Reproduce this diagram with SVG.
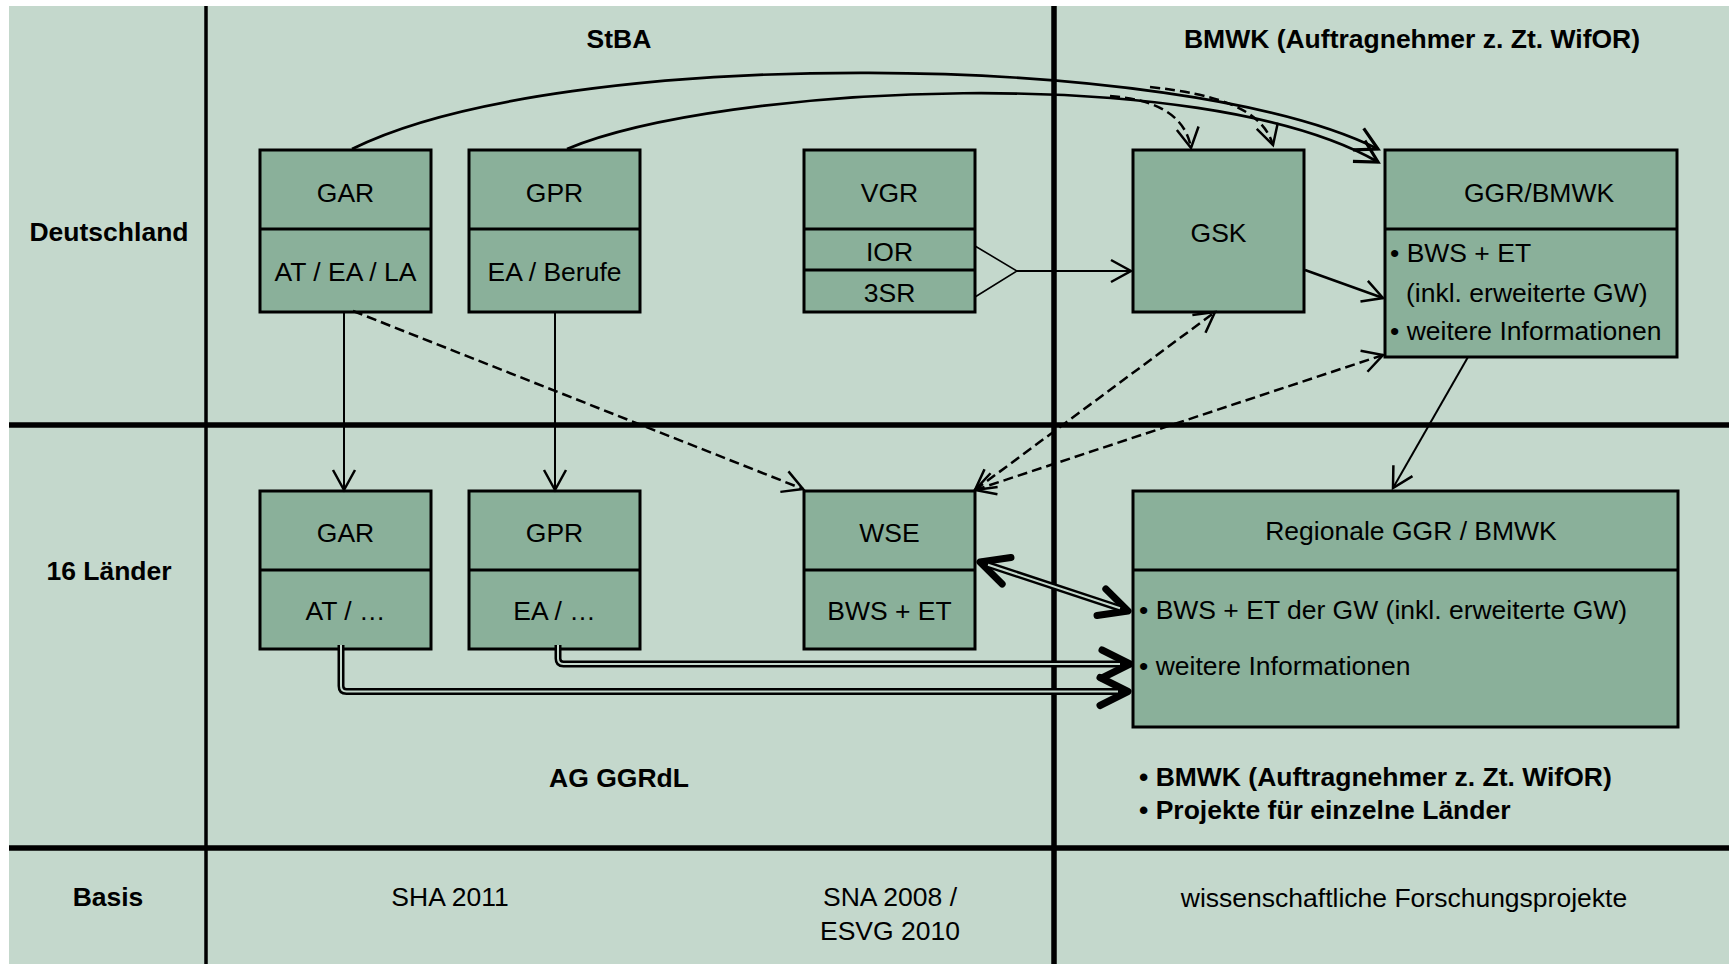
<svg xmlns="http://www.w3.org/2000/svg" width="1729" height="964" viewBox="0 0 1729 964">
<style>
.bg{fill:#C4D8CC}
.box{fill:#8AB09A;stroke:#000;stroke-width:3}
.div{stroke:#000;stroke-width:3;fill:none}
.t{font-family:'Liberation Sans',Arial,Helvetica,sans-serif;font-size:26.5px;fill:#000;text-anchor:middle}
.b{font-weight:bold}
.l{text-anchor:start}
.c{fill:none;stroke:#000;stroke-width:2}
.cw{fill:none;stroke:#000;stroke-width:2.7}
.d{stroke-dasharray:10 5;stroke-width:2.5}
.dblo{fill:none;stroke:#000;stroke-width:7}
.dbli{fill:none;stroke:#C4D8CC;stroke-width:2}
</style>
<defs>
<marker id="arr" markerUnits="userSpaceOnUse" markerWidth="60" markerHeight="60" refX="0" refY="0" orient="auto-start-reverse" overflow="visible">
<path d="M-20,-11 L0,0 L-20,11" fill="none" stroke="#000" stroke-width="2.5"/>
</marker>
<marker id="arrb" markerUnits="userSpaceOnUse" markerWidth="60" markerHeight="60" refX="0" refY="0" orient="auto-start-reverse" overflow="visible">
<path d="M-22,-12 L0,0 L-22,12" fill="none" stroke="#000" stroke-width="3.2"/>
</marker>
<marker id="tarr" markerUnits="userSpaceOnUse" markerWidth="80" markerHeight="80" refX="0" refY="0" orient="auto-start-reverse" overflow="visible">
<path d="M-28,-14 L0,0 L-28,14" fill="none" stroke="#000" stroke-width="7" stroke-linecap="round" stroke-linejoin="round"/>
</marker>
</defs>

<g id="background">
<rect x="0" y="0" width="1729" height="964" fill="#FFFFFF"/>
<rect class="bg" x="9" y="6" width="1720" height="958"/>
<line x1="206" y1="6" x2="206" y2="964" stroke="#000" stroke-width="3.5"/>
<line x1="1054" y1="6" x2="1054" y2="964" stroke="#000" stroke-width="5.5"/>
<line x1="9" y1="425" x2="1729" y2="425" stroke="#000" stroke-width="5.5"/>
<line x1="9" y1="848" x2="1729" y2="848" stroke="#000" stroke-width="5.5"/>
</g>

<g id="labels">
<text class="t b" x="619" y="48">StBA</text>
<text class="t b" x="1412" y="48">BMWK (Auftragnehmer z. Zt. WifOR)</text>
<text class="t b" x="109" y="241">Deutschland</text>
<text class="t b" x="109" y="580">16 Länder</text>
<text class="t b" x="108" y="906">Basis</text>
<text class="t b" x="619" y="787">AG GGRdL</text>
<text class="t b l" x="1139" y="786">• BMWK (Auftragnehmer z. Zt. WifOR)</text>
<text class="t b l" x="1139" y="819">• Projekte für einzelne Länder</text>
<text class="t" x="450" y="906">SHA 2011</text>
<text class="t" x="890" y="906">SNA 2008 /</text>
<text class="t" x="890" y="940">ESVG 2010</text>
<text class="t" x="1404" y="907">wissenschaftliche Forschungsprojekte</text>
</g>

<g id="n-gar-de">
<rect class="box" x="260" y="150" width="171" height="162"/>
<line class="div" x1="260" y1="229" x2="431" y2="229"/>
<text class="t" x="345.5" y="202">GAR</text>
<text class="t" x="345.5" y="281">AT / EA / LA</text>
</g>
<g id="n-gpr-de">
<rect class="box" x="469" y="150" width="171" height="162"/>
<line class="div" x1="469" y1="229" x2="640" y2="229"/>
<text class="t" x="554.5" y="202">GPR</text>
<text class="t" x="554.5" y="281">EA / Berufe</text>
</g>
<g id="n-vgr">
<rect class="box" x="804" y="150" width="171" height="162"/>
<line class="div" x1="804" y1="229" x2="975" y2="229"/>
<line class="div" x1="804" y1="270" x2="975" y2="270"/>
<text class="t" x="889.5" y="202">VGR</text>
<text class="t" x="889.5" y="261">IOR</text>
<text class="t" x="889.5" y="302">3SR</text>
</g>
<g id="n-gsk">
<rect class="box" x="1133" y="150" width="171" height="162"/>
<text class="t" x="1218.5" y="242">GSK</text>
</g>
<g id="n-ggr">
<rect class="box" x="1385" y="150" width="292" height="207"/>
<line class="div" x1="1385" y1="229" x2="1677" y2="229"/>
<text class="t" x="1539" y="202">GGR/BMWK</text>
<text class="t l" x="1390" y="262">• BWS + ET</text>
<text class="t l" x="1406" y="302">(inkl. erweiterte GW)</text>
<text class="t l" x="1390" y="340">• weitere Informationen</text>
</g>
<g id="n-gar-l">
<rect class="box" x="260" y="491" width="171" height="158"/>
<line class="div" x1="260" y1="570" x2="431" y2="570"/>
<text class="t" x="345.5" y="542">GAR</text>
<text class="t" x="345.5" y="620">AT / …</text>
</g>
<g id="n-gpr-l">
<rect class="box" x="469" y="491" width="171" height="158"/>
<line class="div" x1="469" y1="570" x2="640" y2="570"/>
<text class="t" x="554.5" y="542">GPR</text>
<text class="t" x="554.5" y="620">EA / …</text>
</g>
<g id="n-wse">
<rect class="box" x="804" y="491" width="171" height="158"/>
<line class="div" x1="804" y1="570" x2="975" y2="570"/>
<text class="t" x="889.5" y="542">WSE</text>
<text class="t" x="889.5" y="620">BWS + ET</text>
</g>
<g id="n-reg">
<rect class="box" x="1133" y="491" width="545" height="236"/>
<line class="div" x1="1133" y1="570" x2="1678" y2="570"/>
<text class="t" x="1411" y="540">Regionale GGR / BMWK</text>
<text class="t l" x="1139" y="619">• BWS + ET der GW (inkl. erweiterte GW)</text>
<text class="t l" x="1139" y="675">• weitere Informationen</text>
</g>

<g id="connectors">
<path class="cw" d="M352,149 C560,45 1180,50 1378,149" marker-end="url(#arrb)"/>
<path class="cw" d="M567,149 C720,85 1200,60 1378,162" marker-end="url(#arrb)"/>
<path class="c d" d="M1150,87 C1215,94 1262,108 1273,145" marker-end="url(#arr)"/>
<path class="c d" d="M1110,96 C1150,99 1185,112 1191,148" marker-end="url(#arr)"/>
<path class="c" d="M344,313 L344,490" marker-end="url(#arr)"/>
<path class="c" d="M555,313 L555,490" marker-end="url(#arr)"/>
<path class="c d" d="M353,311 L803,489" marker-end="url(#arr)"/>
<path class="c" style="stroke-width:1.6" d="M975,246 L1017,271 L975,297"/>
<path class="c" d="M1017,271 L1131,271" marker-end="url(#arr)"/>
<path class="c" style="stroke-width:2.5" d="M1305,270 L1383,298" marker-end="url(#arr)"/>
<path class="c d" d="M975,490 L1215,312" marker-start="url(#arr)" marker-end="url(#arr)"/>
<path class="c d" d="M975,490 L1383,355" marker-start="url(#arr)" marker-end="url(#arr)"/>
<path class="c" d="M1468,357 L1393,488" marker-end="url(#arr)"/>
<path class="dblo" d="M980,562 L1128,611" marker-start="url(#tarr)" marker-end="url(#tarr)"/>
<path class="dbli" d="M988,564.7 L1120,608.3"/>
<path class="dblo" d="M341,645 V686 Q341,691.5 346.5,691.5 H1128" marker-end="url(#tarr)"/>
<path class="dbli" d="M341,645 V686 Q341,691.5 346.5,691.5 H1118"/>
<path class="dblo" d="M558,645 V658.5 Q558,664 563.5,664 H1130" marker-end="url(#tarr)"/>
<path class="dbli" d="M558,645 V658.5 Q558,664 563.5,664 H1120"/>
</g>
</svg>
